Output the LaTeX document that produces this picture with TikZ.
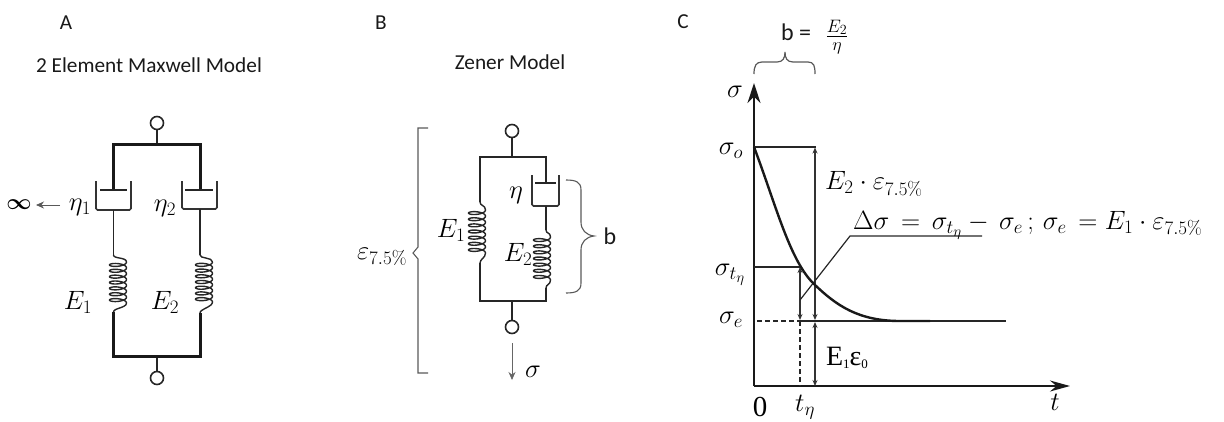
\documentclass[tikz,border=0pt]{standalone}
\usepackage{fix-cm}
\usepackage[no-math]{fontspec}
\setmainfont{Carlito}
\newfontfamily\serfont{Liberation Serif}
\usetikzlibrary{arrows.meta,calc}
\DeclareMathSizes{26.5}{26.5}{19}{15}
\DeclareMathSizes{25}{25}{18}{14}
\newcommand{\mysize}[1]{\fontsize{#1}{#1}\selectfont}
\newcommand{\coilpath}[6]{% linex coilcx ytop y0 y1 ybot
  \draw[springline] (#1,#3) .. controls (#1,#3+4) and (#2+8.5,#4-5) .. (#2+8.5,#4)
    plot[domain=0:2520,samples=210,smooth] ({#2+8.5*cos(\x)},{#4+(\x/2520)*(#5-#4)+2.8*sin(\x)})
    .. controls (#2+8.5,#5+5) and (#1,#6-4) .. (#1,#6);
}
\tikzset{
  x=1pt,y=-1pt,
  thinline/.style={line width=1.2pt,black!85},
  wire/.style={line width=1.6pt,black!85},
  thickwire/.style={line width=3pt,black!90,line cap=butt},
  springline/.style={line width=1.4pt,black!85},
  cup/.style={line width=1.6pt,black!80,rounded corners=1.5pt},
  terminal/.style={circle,draw=black!85,line width=1.6pt,fill=white,minimum size=13pt,inner sep=0pt},
  gline/.style={line width=1.1pt,black!65},
  lbl/.style={inner sep=0pt,text=black},
  sanslbl/.style={inner sep=0pt,text=black!90,font=\mysize{21.3}},
  mlbl/.style={inner sep=0pt,text=black,font=\mysize{26.5}},
  mark2/.style={line width=1.2pt,black!80,{Stealth[length=6pt,width=5pt]}-{Stealth[length=6pt,width=5pt]}},
  curvel/.style={line width=2.4pt,black!90},
  axis/.style={line width=1.7pt,black!90},
  dash2/.style={dash pattern=on 5pt off 3pt},
}
\begin{document}
\begin{tikzpicture}
\useasboundingbox (0,0) rectangle (1224,421);
% headings
\node[sanslbl] (hA) at (66,23) {A};
\node[sanslbl] (hB) at (381,23) {B};
\node[sanslbl] (hC) at (683,22) {C};
\node[sanslbl] (tA) at (149,65) {2 Element Maxwell Model};
\node[sanslbl] (tB) at (510,62) {Zener Model};

% ---------- Panel A
\node[terminal] (at) at (157,123) {};
\node[terminal] (ab) at (157,378) {};
\coordinate (atj) at (157,144);
\coordinate (abj) at (157,356);
\draw[wire] (at) -- (atj);
\draw[wire] (ab) -- (abj);
\coordinate (atl) at (113.5,144);
\coordinate (atr) at (200,144);
\coordinate (abl) at (113.5,356);
\coordinate (abr) at (200,356);
\coordinate (apl) at (113.5,190);
\coordinate (apr) at (200,190);
\coordinate (asl) at (113.5,312);
\coordinate (asr) at (200,313);
\draw[thickwire,line join=miter] (apl) -- (atl) -- (atr) -- (apr);
\draw[thickwire,line join=miter] (asl) -- (abl) -- (abr) -- (asr);
\draw[line width=1.3pt,black!85] (100,190) -- (127,190);
\draw[line width=1.3pt,black!85] (185,190) -- (213,190);
\draw[cup] (96,181) -- (96,210) -- (131,210) -- (131,181);
\draw[cup] (182,181) -- (182,209) -- (217,209) -- (217,181);
\draw[thinline] (113.5,210) -- (113.5,255);
\draw[thinline] (200,209) -- (200,255);
\coilpath{113.5}{118}{255}{262}{303}{312}
\coilpath{200}{204}{255}{262}{302}{313}
\node[lbl,font=\mysize{22}\boldmath] (inf) at (19,205) {$\infty$};
\coordinate (infa) at (60,205);
\coordinate (infb) at (36,205);
\draw[line width=.8pt,black!65,-{Stealth[length=8pt,width=7pt]}] (infa) -- (infb);
\node[mlbl] (eta1) at (80,207) {$\eta_1$};
\node[mlbl] (eta2) at (165,208) {$\eta_2$};
\node[mlbl] (e1a) at (78,302) {$E_1$};
\node[mlbl] (e2a) at (165,302) {$E_2$};

% ---------- Panel B
\node[terminal] (bt) at (512,131) {};
\node[terminal] (bb) at (512,327) {};
\coordinate (btj) at (512,157);
\coordinate (bbj) at (512,301);
\draw[wire] (bt) -- (btj);
\draw[wire] (bb) -- (bbj);
\draw[wire,line join=miter] (480,202) -- (480,157) -- (546,157) -- (546,183);
\draw[wire,line join=miter] (480,263) -- (480,301) -- (546,301) -- (546,288);
\draw[line width=1.3pt,black!85] (535,183) -- (556,183);
\draw[cup] (532,175) -- (532,206) -- (559,206) -- (559,175);
\draw[wire] (546,206) -- (546,230);
\coilpath{480}{477}{202}{210}{253}{263}
\coilpath{546}{542}{230}{237}{280}{288}
\draw[gline,line join=miter] (428,128) -- (418,128) -- (418,247) -- (413,253) -- (418,259) -- (418,373) -- (428,373);
\draw[gline] (566,180) .. controls (576,180) and (581,182) .. (581,190) -- (581,222)
  .. controls (581,230) and (586,235) .. (594,236)
  .. controls (586,237) and (581,242) .. (581,250) -- (581,283)
  .. controls (581,291) and (576,293) .. (566,293);
\node[sanslbl,font=\mysize{24}] (bl) at (610,236) {b};
\node[mlbl] (etab) at (516,195) {$\eta$};
\node[mlbl] (e1b) at (451,230) {$E_1$};
\node[mlbl] (e2b) at (518,254) {$E_2$};
\node[mlbl] (epsb) at (382,257) {$\varepsilon_{7.5\%}$};
\coordinate (sa) at (512,343);
\coordinate (sb) at (512,380);
\draw[line width=.8pt,black!60,-{Stealth[length=8pt,width=7pt]}] (sa) -- (sb);
\node[mlbl] (sigb) at (533,372) {$\sigma$};

% ---------- Panel C
\coordinate (o) at (754,386);
\coordinate (ytip) at (754,83);
\coordinate (xtip) at (1070,386);
\draw[axis,-{Stealth[length=20pt,width=13pt]}] (o) -- (ytip);
\draw[axis,-{Stealth[length=20pt,width=11pt]}] (o) -- (xtip);
\coordinate (s0) at (754,147);
\coordinate (s0r) at (816,147);
\coordinate (stl) at (754,267);
\coordinate (str) at (800,267);
\coordinate (sel) at (757,321);
\coordinate (sem) at (800,321);
\coordinate (ser) at (1006,321);
\draw[thinline] (s0) -- (s0r);
\draw[thinline] (stl) -- (str);
\draw[thinline,dash2] (sel) -- (sem);
\draw[line width=1.3pt,black!85] (sem) -- (ser);
\draw[thinline,dash2] (sem) -- (800,386);
\draw[mark2] (str) -- (800,320);
\draw[mark2] (815,147.5) -- (815,320);
\draw[mark2] (815,322) -- (815,386);
\draw[thinline] (800,300) -- (850,236) -- (982,236);
\draw[curvel] (s0) .. controls (776,205) and (790,262) .. (815,285)
  .. controls (836,305) and (858,321) .. (900,321) -- (930,321);
\draw[gline,line width=1.2pt] (754,74) .. controls (754,66) and (756,62) .. (762,62) -- (777,62)
  .. controls (783,62) and (785,58) .. (785,52)
  .. controls (785,58) and (787,62) .. (793,62) -- (808,62)
  .. controls (814,62) and (815,66) .. (815,74);
\node[sanslbl,font=\mysize{24},anchor=base west] (beq) at (781,40) {b =};
\node[lbl,font=\mysize{25}] (bfrac) at (837,37) {$\frac{E_2}{\eta}$};
\node[mlbl] (sy) at (735,92) {$\sigma$};
\node[mlbl] (so) at (731,151) {$\sigma_o$};
\node[mlbl] (st) at (730,275) {$\sigma_{t_\eta}$};
\node[mlbl] (se) at (731,320) {$\sigma_e$};
\node[mlbl,anchor=west] (e2e) at (825,184) {$E_2\cdot\varepsilon_{7.5\%}$};
\node[mlbl,anchor=west] (ds) at (853,225) {$\Delta\sigma\,=\,\sigma_{t_\eta}-\,\sigma_e\,;\,\sigma_e\,=E_1\cdot\varepsilon_{7.5\%}$};
\node[lbl,font=\mysize{28}\serfont] (e1e) at (847,358) {E{\fontsize{13}{13}\selectfont\raisebox{-.5ex}{1}}ε{\fontsize{13}{13}\selectfont\raisebox{-.5ex}{0}}};
\node[lbl,font=\mysize{29}\serfont] (zero) at (760,407) {0};
\node[mlbl] (te) at (805,407) {$t_\eta$};
\node[mlbl] (tt) at (1055,402) {$t$};
\end{tikzpicture}
\end{document}
